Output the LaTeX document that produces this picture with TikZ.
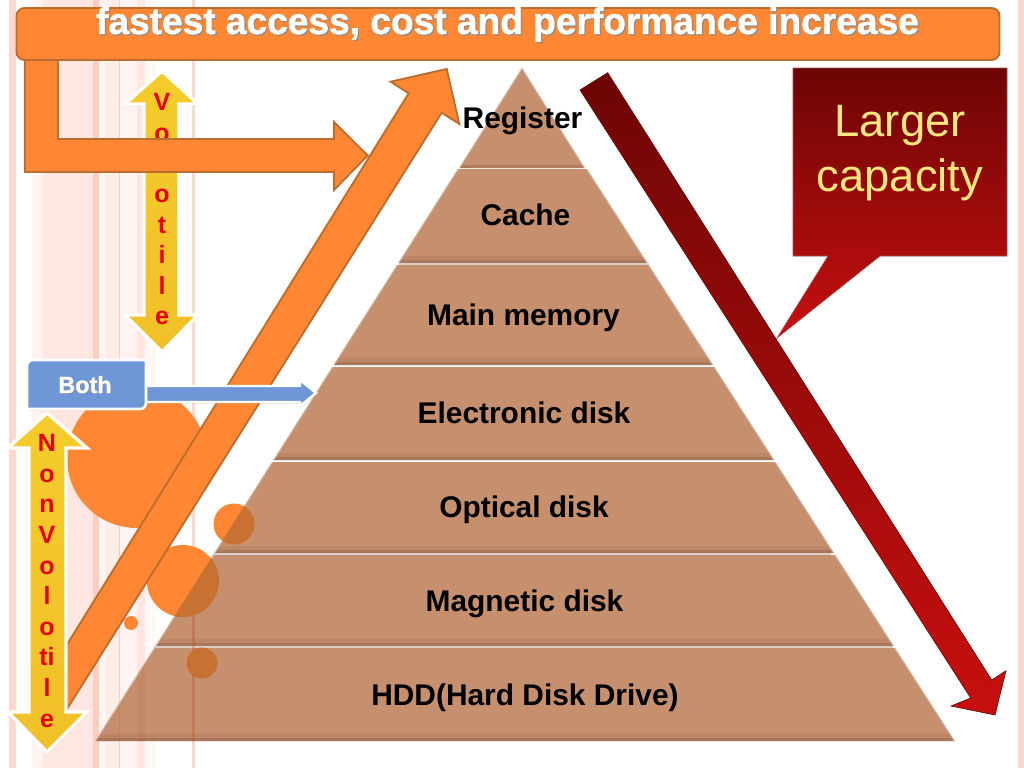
\documentclass[tikz,border=0pt]{standalone}
\usepackage{fontspec}
\setmainfont{Liberation Sans}
\usetikzlibrary{shadows}
\definecolor{orangeF}{HTML}{FF8733}
\definecolor{orangeE}{HTML}{BC6E2E}
\definecolor{orangeD}{HTML}{C77233}
\definecolor{tierF}{HTML}{C0845F}
\definecolor{tierD}{HTML}{8E6049}
\definecolor{tierE}{HTML}{CDB5A0}
\definecolor{sepL}{HTML}{D9CFC6}
\definecolor{stA}{HTML}{FCD8CE}
\definecolor{stB}{HTML}{FFE6E0}
\definecolor{stC}{HTML}{FFF4F1}
\definecolor{stD}{HTML}{FFCDC0}
\definecolor{stE}{HTML}{FFEDE8}
\definecolor{stripeT}{HTML}{B5562C}
\definecolor{redT}{HTML}{6D0505}
\definecolor{redM}{HTML}{990707}
\definecolor{redB}{HTML}{C80F0F}
\definecolor{capY}{HTML}{FFE681}
\definecolor{blueF}{HTML}{6F97D8}
\definecolor{redL}{HTML}{E60000}
\definecolor{yelT}{HTML}{F5CB2B}
\definecolor{yelM}{HTML}{F8D22E}
\definecolor{yelB}{HTML}{F1C029}
\newcommand\halotext[2]{\makebox[0pt][l]{\hspace{#1}\raisebox{-#1}{\textcolor{black!45}{#2}}}\textcolor{white}{#2}}
\tikzset{
  tierlabel/.style={anchor=base,inner sep=0pt,font=\fontsize{29.9}{32}\selectfont\bfseries,text=black},
  orangeshape/.style={fill=orangeF,draw=orangeE,line width=1.9pt,line join=miter},
  yellowarrow/.style={top color=yelT,middle color=yelM,bottom color=yelB,draw=white,line width=3.4pt,line join=miter,
    drop shadow={opacity=.3,shadow xshift=1pt,shadow yshift=-1.5pt}},
  yellowletters/.style={anchor=north,inner sep=0pt,align=center,text=redL,font=\fontsize{25}{30.65}\selectfont\bfseries},
  blob/.style={fill=orangeF},
  blobdark/.style={fill=orangeD}
}
\begin{document}
\begin{tikzpicture}[x=1pt,y=-1pt]
\useasboundingbox (0,0) rectangle (1024,768);
\fill[white] (0,0) rectangle (1024,768);
% background stripes
\fill[stA] (9,0) rectangle (15.5,768);
\fill[stC] (32,0) rectangle (43,768);
\fill[stB] (43,0) rectangle (93,768);
\fill[stD] (93,0) rectangle (99,768);
\fill[stC] (99,0) rectangle (106,768);
\fill[stE] (106,0) rectangle (119,768);
\fill[stD] (119,0) rectangle (120,768);
\fill[stC] (120,0) rectangle (137,768);
\fill[stB] (137,0) rectangle (145,768);
\fill[stC!60!white] (145,0) rectangle (156,768);
\fill[stA] (192,0) rectangle (195,768);
\fill[stA] (1018,0) rectangle (1024,768);
% big circle behind
\fill[blob] (137,458) circle (70);
% pyramid
\begin{scope}[opacity=.9]
\fill[tierF] (522,68.5) -- (584.5,168) -- (459.5,168) -- cycle;
\end{scope}
\foreach \ya/\yb in {169/263,265/365,367/460,462/553,555/646,648/741}{
  \pgfmathsetmacro\xal{522-.634*(\ya-68.5)}
  \pgfmathsetmacro\xar{522+.643*(\ya-68.5)}
  \pgfmathsetmacro\xbl{522-.634*(\yb-68.5)}
  \pgfmathsetmacro\xbr{522+.643*(\yb-68.5)}
  \fill[tierF,opacity=.9] (\xal,\ya) -- (\xar,\ya) -- (\xbr,\yb) -- (\xbl,\yb) -- cycle;
  \fill[tierD,opacity=.18] (\xbl,\yb) -- (\xbr,\yb) -- ++(-5,-7) -- ({\xbl+5},\yb-7) -- cycle;
  \fill[tierD,opacity=.4] (\xbl,\yb) -- (\xbr,\yb) -- ++(-2,-3) -- ({\xbl+2},\yb-3) -- cycle;
  \draw[tierE,line width=1.2pt,opacity=.8] (\xal,\ya) -- (\xbl,\yb);
  \draw[tierE,line width=1.2pt,opacity=.8] (\xar,\ya) -- (\xbr,\yb);
}
\fill[tierD,opacity=.4] (459.5,168) -- (584.5,168) -- ++(-2,-3) -- (461.5,165) -- cycle;
\draw[tierE,line width=1.2pt,opacity=.8] (522,68.5) -- (459.5,168);
\draw[tierE,line width=1.2pt,opacity=.8] (522,68.5) -- (584.5,168);
\draw[sepL,line width=1.6pt] (399,264) -- (649,264);
\draw[sepL,line width=1.6pt] (213,554) -- (831,554);
\draw[sepL,line width=1.6pt] (154,647) -- (893,647);
\begin{scope}
\clip (522,68.5) -- (955,741) -- (95,741) -- cycle;
\fill[stripeT,opacity=.3] (192,0) rectangle (195,768);
\fill[stripeT,opacity=.12] (119,0) rectangle (120,768);
\fill[stripeT,opacity=.08] (137,0) rectangle (145,768);
\end{scope}
% small circles
\fill[blob] (234,524) circle (20.5);
\fill[blob] (183,581) circle (36);
\fill[blob] (131,623) circle (7);
\begin{scope}
\clip (522,68.5) -- (955,741) -- (95,741) -- cycle;
\fill[blobdark] (234,524) circle (20.5);
\fill[blobdark] (183,581) circle (36);
\fill[blobdark] (202,663) circle (15.5);
\end{scope}
% red arrow
\draw[top color=redT,bottom color=redB,draw=redT!90!black,line width=.6pt]
  (580,90) -- (607.7,72.7) -- (991.7,680) -- (1006,670.7) -- (995,715) -- (951,706) -- (970.7,698) -- cycle;
% callout
\draw[top color=redT,middle color=redM,bottom color=redB,draw=redT!70!white,line width=.6pt]
  (793,68) -- (1007,68) -- (1007,256) -- (880,256) -- (777,338) -- (828,256) -- (793,256) -- cycle;
\node[anchor=base,inner sep=0pt,text=capY,font=\fontsize{45.4}{54}\selectfont] (larger) at (900,136) {Larger};
\node[anchor=base,inner sep=0pt,text=capY,font=\fontsize{45.4}{54}\selectfont] (capacity) at (900,191.5) {capacity};
% volatile arrow
\draw[yellowarrow] (162,71) -- (198,104) -- (179,104) -- (179,315) -- (198,315) -- (162,352) -- (125,315) -- (144,315) -- (144,104) -- (125,104) -- cycle;
\node[yellowletters] (volatile) at (162,93) {V\\o\\l\\o\\t\\i\\l\\e};
% big diagonal arrow
\draw[orangeshape] (50,736) -- (441.7,112.7) -- (459.3,124) -- (446.7,69) -- (390.7,81.7) -- (408.7,93.3) -- (50,672) -- cycle;
% L arrow
\draw[orangeshape] (25,60) -- (58,60) -- (58,139) -- (334,139) -- (334,122) -- (367.7,155.5) -- (334,190) -- (334,172) -- (25,172) -- cycle;
% top bar
\draw[orangeshape,rounded corners=8pt] (16.5,8) rectangle (999.5,60);
\node[anchor=base,inner sep=0pt,font=\fontsize{37.1}{40}\selectfont\bfseries\addfontfeature{FakeBold=1.2}] (title) at (507.5,34) {\halotext{1.2pt}{fastest access, cost and performance increase}};
% non-volatile arrow
\draw[yellowarrow] (47,413) -- (87,448) -- (66,448) -- (66,712) -- (87,712) -- (47,752) -- (8,712) -- (29,712) -- (29,448) -- (8,448) -- cycle;
\node[yellowletters] (nonvol) at (47,434) {N\\o\\n\\V\\o\\l\\o\\ti\\l\\e};
% both arrow and box
\draw[fill=blueF,draw=white,line width=2.4pt,line join=miter,drop shadow={opacity=.3,shadow xshift=1pt,shadow yshift=-1.5pt}]
  (145,386) -- (300,386) -- (300,380) -- (316,393) -- (300,406) -- (300,402) -- (145,402) -- cycle;
\draw[fill=blueF,draw=white,line width=2.6pt,drop shadow={opacity=.3,shadow xshift=1pt,shadow yshift=-1.5pt}]
  (27,409) [rounded corners=6pt] -- (27,360) [sharp corners] -- (146,360) [rounded corners=6pt] -- (146,409) [sharp corners] -- cycle;
\node[anchor=base,inner sep=0pt,font=\fontsize{23.4}{26}\selectfont\bfseries\addfontfeature{FakeBold=1}] (both) at (85,393) {\halotext{.8pt}{Both}};
% tier labels
\node[tierlabel] (register) at (522.5,128) {Register};
\node[tierlabel] (cache) at (525.5,225.5) {Cache};
\node[tierlabel] (mainmem) at (523.5,325.5) {Main memory};
\node[tierlabel] (electronic) at (524,423.5) {Electronic disk};
\node[tierlabel] (optical) at (524,517) {Optical disk};
\node[tierlabel] (magnetic) at (524.5,611) {Magnetic disk};
\node[tierlabel] (hdd) at (525,705) {HDD(Hard Disk Drive)};
\end{tikzpicture}
\end{document}
